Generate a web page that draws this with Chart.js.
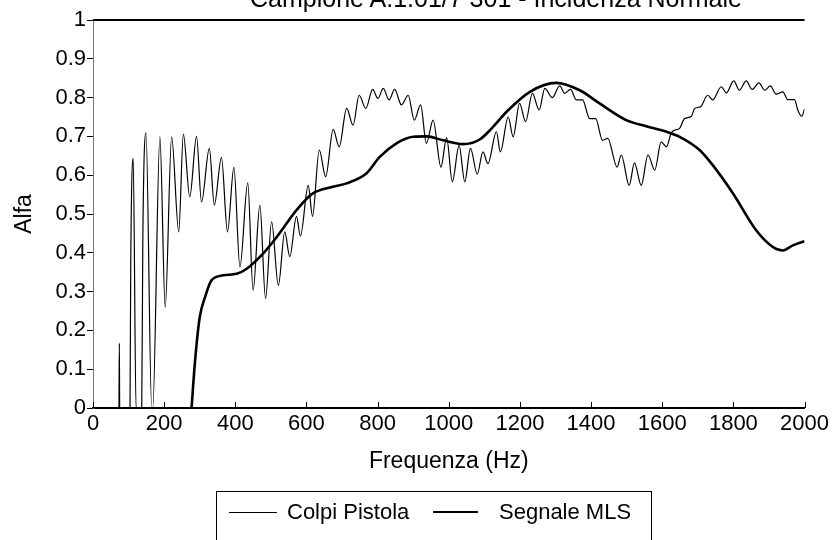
<!DOCTYPE html>
<html>
<head>
<meta charset="utf-8">
<script src="https://cdn.jsdelivr.net/npm/chart.js@4.4.0/dist/chart.umd.min.js"></script>
<style>
	body { margin: 0; background: #fff; }
	#wrap { position: relative; width: 832px; height: 540px; overflow: hidden; background: #fff; }
	#title { position: absolute; left: 250px; top: -16px; font: 25px "Liberation Sans", Arial, sans-serif; color: #000; white-space: nowrap; }
	#legend { position: absolute; left: 216px; top: 491px; width: 436px; height: 70px; border: 1px solid #000; box-sizing: border-box; font: 22px "Liberation Sans", Arial, sans-serif; color: #000; }
	#legend .sw { position: absolute; background: #000; }
	#legend .tx { position: absolute; top: 7px; white-space: nowrap; }
</style>
</head>
<body>
<div id="wrap">
	<canvas id="alfaChart" width="832" height="540"></canvas>
	<div id="title">Campione A.1.01/7 301 - Incidenza Normale</div>
	<div id="legend">
		<div class="sw" style="left:12px;top:20px;width:48px;height:1px"></div>
		<div class="tx" style="left:70px">Colpi Pistola</div>
		<div class="sw" style="left:216px;top:19px;width:45px;height:2px"></div>
		<div class="tx" style="left:282px">Segnale MLS</div>
	</div>
</div>
<script>
// Colpi Pistola (frequenza Hz / alfa)
var pistolaHz = [73, 74, 75, 104, 106, 113, 121, 137, 140, 149, 165, 168, 188, 203, 221, 241, 254, 272, 291, 305,
	327, 341, 361, 378, 396, 413, 435, 450, 469, 485, 502, 521, 539, 553, 572, 583, 605, 617, 636, 654,
	675, 692, 713, 731, 748, 767, 786, 801, 816, 832, 848, 867, 886, 903, 921, 937, 956, 978, 994, 1010,
	1029, 1045, 1061, 1080, 1096, 1110, 1134, 1145, 1167, 1181, 1199, 1216, 1235, 1254, 1270, 1291, 1312, 1326, 1342, 1359,
	1376, 1396, 1413, 1432, 1447, 1473, 1485, 1507, 1522, 1541, 1560, 1579, 1597, 1612, 1625, 1635, 1648, 1663, 1682, 1691,
	1707, 1728, 1742, 1766, 1780, 1801, 1817, 1836, 1853, 1872, 1888, 1904, 1920, 1939, 1953, 1972, 1981, 1992, 2000];
var pistolaAlfa = [0, 0.167, 0, 0, 0.36, 0.644, 0, 0, 0.43, 0.709, 0, 0, 0.699, 0.26, 0.699, 0.454, 0.706, 0.544, 0.70, 0.531,
	0.669, 0.523, 0.646, 0.454, 0.62, 0.363, 0.58, 0.303, 0.523, 0.282, 0.48, 0.316, 0.454, 0.39, 0.494, 0.443, 0.574, 0.494, 0.665, 0.596,
	0.718, 0.673, 0.772, 0.729, 0.806, 0.772, 0.821, 0.798, 0.824, 0.794, 0.821, 0.781, 0.806, 0.742, 0.781, 0.682, 0.742, 0.621, 0.697, 0.583,
	0.677, 0.583, 0.669, 0.603, 0.66, 0.63, 0.712, 0.66, 0.75, 0.699, 0.785, 0.738, 0.811, 0.768, 0.824, 0.80, 0.83, 0.811, 0.821, 0.794,
	0.794, 0.746, 0.746, 0.69, 0.695, 0.621, 0.652, 0.574, 0.632, 0.574, 0.652, 0.613, 0.686, 0.673, 0.708, 0.716, 0.72, 0.746, 0.752, 0.772,
	0.776, 0.806, 0.794, 0.828, 0.812, 0.843, 0.819, 0.843, 0.821, 0.838, 0.819, 0.83, 0.809, 0.815, 0.795, 0.795, 0.768, 0.752, 0.77];

// Segnale MLS
var mlsHz = [277, 287, 300, 315, 333, 366, 404, 432, 480, 516, 572, 618, 674, 713, 769, 806, 853, 900, 937, 984,
	1040, 1087, 1120, 1162, 1228, 1302, 1368, 1424, 1499, 1555, 1612, 1649, 1705, 1742, 1799, 1864, 1911, 1939, 1967, 2000];
var mlsAlfa = [0, 0.123, 0.234, 0.286, 0.329, 0.342, 0.346, 0.359, 0.40, 0.44, 0.51, 0.553, 0.57, 0.579, 0.605, 0.647, 0.682, 0.699, 0.70, 0.69,
	0.68, 0.692, 0.72, 0.763, 0.815, 0.838, 0.819, 0.785, 0.742, 0.726, 0.712, 0.699, 0.665, 0.626, 0.553, 0.458, 0.415, 0.406, 0.419, 0.43];

var xTicks = [0, 200, 400, 600, 800, 1000, 1200, 1400, 1600, 1800, 2000];

function toPoints(xs, ys) {
	var pts = [];
	for(var i = 0; i < xs.length; i++) {
		pts.push({ x: xs[i], y: ys[i] });
	}
	return pts;
}

var family = '"Liberation Sans", Arial, sans-serif';
var tickFont = { family: family, size: 22 };
var titleFont = { family: family, size: 23 };

// top border + inward ticks on the x axis
var framePlugin = {
	id: 'frame',
	afterDraw: function(chart) {
		var c = chart.ctx;
		var a = chart.chartArea;
		var xs = chart.scales.x;
		c.save();
		c.strokeStyle = '#000';
		c.lineWidth = 2;
		c.beginPath();
		c.moveTo(a.left, a.top);
		c.lineTo(a.right, a.top);
		c.stroke();
		c.lineWidth = 1;
		for(var v of xTicks) {
			var px = Math.round(xs.getPixelForValue(v)) + 0.5;
			c.beginPath();
			c.moveTo(px, a.bottom);
			c.lineTo(px, a.bottom - 6);
			c.stroke();
		}
		c.restore();
	}
};

var ctx = document.getElementById('alfaChart').getContext('2d');
var chart = new Chart(ctx, {
	type: 'scatter',
	data: {
		datasets: [{
			label: 'Colpi Pistola',
			data: toPoints(pistolaHz, pistolaAlfa),
			showLine: true,
			borderColor: '#000',
			borderWidth: 1.2,
			pointRadius: 0,
			cubicInterpolationMode: 'monotone'
		}, {
			label: 'Segnale MLS',
			data: toPoints(mlsHz, mlsAlfa),
			showLine: true,
			borderColor: '#000',
			borderWidth: 2.6,
			pointRadius: 0,
			cubicInterpolationMode: 'monotone'
		}]
	},
	options: {
		responsive: false,
		devicePixelRatio: 1,
		animation: false,
		layout: { padding: { top: 20, right: 27, left: 0, bottom: 65 } },
		plugins: {
			legend: { display: false },
			tooltip: { enabled: false }
		},
		scales: {
			x: {
				type: 'linear',
				min: 0,
				max: 2000,
				afterFit: function(s) { s.height = 67; },
				afterBuildTicks: function(s) { s.ticks = xTicks.map(v => ({ value: v })); },
				grid: { display: true, drawOnChartArea: false, drawTicks: false },
				border: { color: '#000', width: 2 },
				ticks: { color: '#000', font: tickFont, padding: 3, maxRotation: 0, callback: (v) => String(v) },
				title: { display: true, text: 'Frequenza (Hz)', color: '#000', font: titleFont, padding: 0 }
			},
			y: {
				min: 0,
				max: 1,
				afterFit: function(s) { s.width = 93; },
				grid: { drawOnChartArea: false, color: '#000', tickLength: 6 },
				border: { color: '#777', width: 1, dash: [2, 2] },
				ticks: { stepSize: 0.1, color: '#000', font: tickFont, padding: 1, callback: (v) => String(Math.round(v * 10) / 10) },
				title: { display: true, text: 'Alfa', color: '#000', font: titleFont, padding: 11 }
			}
		}
	},
	plugins: [framePlugin]
});
</script>
</body>
</html>
